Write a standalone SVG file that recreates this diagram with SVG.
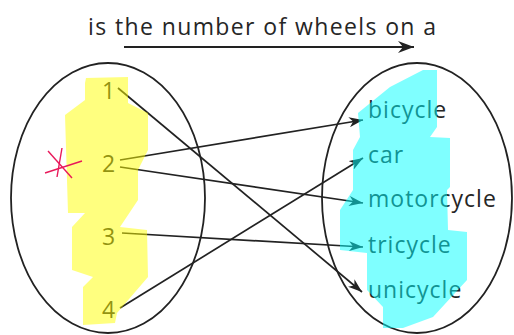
<svg xmlns="http://www.w3.org/2000/svg" width="514" height="335" viewBox="0 0 514 335">
<style>
.t{font-family:"Open Sans","Noto Sans",sans-serif;font-size:23px;fill:#262626;letter-spacing:1px}
.ell{fill:none;stroke:#222;stroke-width:1.8}
.c{fill:none;stroke:#222;stroke-width:1.7}
.hl{opacity:0.5}
</style>
<defs>
<marker id="ah" markerUnits="userSpaceOnUse" markerWidth="16" markerHeight="10" refX="14" refY="5" orient="auto">
<path d="M0,0 L14,5 L0,10 L4,5 Z" fill="#222"/>
</marker>
<marker id="ahT" markerUnits="userSpaceOnUse" markerWidth="18" markerHeight="12" refX="16" refY="6" orient="auto">
<path d="M0,0 L16,6 L0,12 L5,6 Z" fill="#222"/>
</marker>
</defs>
<rect width="514" height="335" fill="#fff"/>
<g id="title">
<text class="t" x="88" y="35" textLength="349" lengthAdjust="spacing">is the number of wheels on a</text>
<line x1="124" y1="47" x2="414" y2="47" stroke="#222" stroke-width="2.2" marker-end="url(#ahT)"/>
</g>
<g id="domain">
<ellipse class="ell" cx="108" cy="198" rx="97" ry="135"/>
</g>
<g id="range">
<ellipse class="ell" cx="417" cy="198" rx="95" ry="135"/>
</g>
<g id="n1"><text class="t" x="102" y="99">1</text></g>
<g id="n2"><text class="t" x="102" y="172">2</text></g>
<g id="n3"><text class="t" x="102" y="245">3</text></g>
<g id="n4"><text class="t" x="102" y="318">4</text></g>
<g id="bicycle"><text class="t" x="368" y="118">bicycle</text></g>
<g id="car"><text class="t" x="368" y="163">car</text></g>
<g id="motorcycle"><text class="t" x="368" y="207">motorcycle</text></g>
<g id="tricycle"><text class="t" x="368" y="253">tricycle</text></g>
<g id="unicycle"><text class="t" x="368" y="298">unicycle</text></g>
<g id="connectors">
<line class="c" x1="118" y1="88" x2="362" y2="292" marker-end="url(#ah)"/>
<line class="c" x1="120" y1="160" x2="363" y2="120" marker-end="url(#ah)"/>
<line class="c" x1="120" y1="167" x2="363" y2="203" marker-end="url(#ah)"/>
<line class="c" x1="122" y1="233" x2="363" y2="247" marker-end="url(#ah)"/>
<line class="c" x1="120" y1="308" x2="363" y2="158" marker-end="url(#ah)"/>
</g>
<g id="highlights">
<path class="hl" fill="#ffff00" d="M85,83 L86,78 L128,77 L128,103 L148,113 L148,150 L138,170 L138,200 L120,227 L147,230 L148,277 L117,313 L115,323 L83,325 L83,287 L93,277 L72,270 L72,227 L85,213 L68,213 L65,115 L85,100 Z"/>
<path class="hl" fill="#00ffff" d="M423,70 L437,70 L437,127 L430,137 L450,138 L450,187 L447,190 L448,230 L467,232 L467,280 L433,317 L403,328 L383,328 L383,307 L367,290 L367,253 L340,250 L340,210 L353,190 L353,150 L360,137 L358,113 L390,87 Z"/>
</g>
<g id="mark" stroke="#e8195a" stroke-width="1.4" fill="none">
<line x1="48" y1="151" x2="72" y2="178"/>
<line x1="45" y1="173" x2="82" y2="161"/>
<line x1="62" y1="148" x2="57" y2="177"/>
</g>
</svg>
